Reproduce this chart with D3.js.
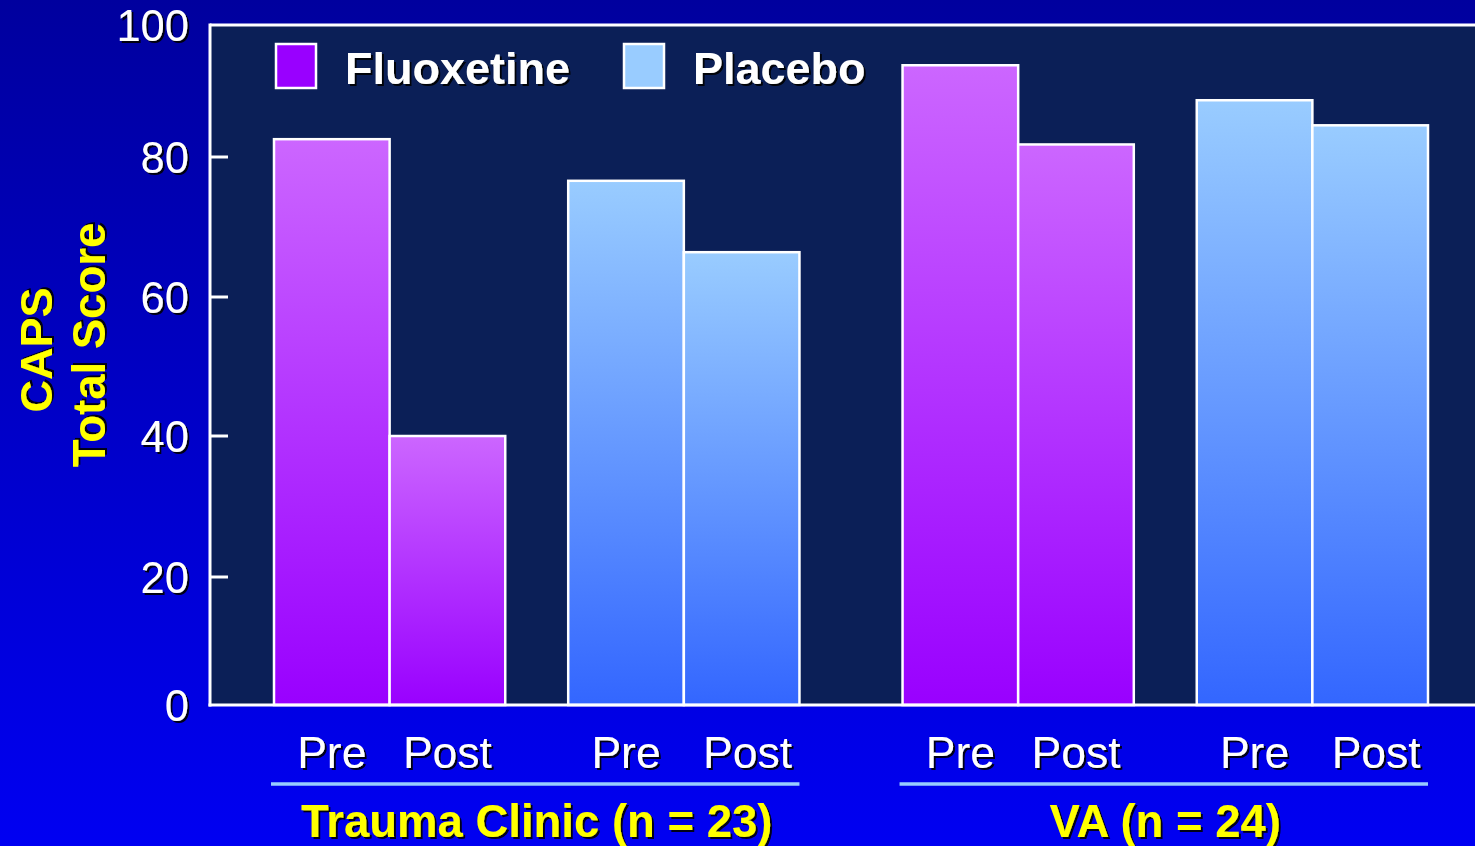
<!DOCTYPE html>
<html>
<head>
<meta charset="utf-8">
<script src="https://cdn.jsdelivr.net/npm/d3@7"></script>
<style>
html,body{margin:0;padding:0;background:#0000c8;}
svg{display:block;}
text{font-family:"Liberation Sans",Arial,sans-serif;}
</style>
</head>
<body>
<svg id="chart" width="1475" height="846"></svg>
<script>
// ---- data ----
const sites = ["Trauma Clinic (n = 23)", "VA (n = 24)"];
const treatments = ["Fluoxetine", "Placebo"];
const times = ["Pre", "Post"];
const fluoxetineValues = [[82.7, 40.0], [93.9, 81.9]];   // per site: [Pre, Post]
const placeboValues = [[76.6, 66.4], [88.6, 84.8]];      // per site: [Pre, Post]
const yTicks = [0, 20, 40, 60, 80, 100];
const yTitle = ["CAPS", "Total Score"];

const W = 1475, H = 846;
const svg = d3.select("#chart");
const defs = svg.append("defs");

// background gradient
const bg = defs.append("linearGradient").attr("id","bg").attr("x1",0).attr("y1",0).attr("x2",0).attr("y2",1);
bg.append("stop").attr("offset","0%").attr("stop-color","#00009e");
bg.append("stop").attr("offset","100%").attr("stop-color","#0000f2");
svg.append("rect").attr("width",W).attr("height",H).attr("fill","url(#bg)");

// bar gradients
const grads = {
  Fluoxetine: ["#cc66ff", "#9900ff"],
  Placebo: ["#99ccff", "#3366ff"]
};
const solid = {Fluoxetine: "#9900ff", Placebo: "#99ccff"};
treatments.forEach(t => {
  const g = defs.append("linearGradient").attr("id","g"+t).attr("x1",0).attr("y1",0).attr("x2",0).attr("y2",1);
  g.append("stop").attr("offset","0%").attr("stop-color",grads[t][0]);
  g.append("stop").attr("offset","100%").attr("stop-color",grads[t][1]);
});

// text shadow
const f = defs.append("filter").attr("id","shadow").attr("x","-10%").attr("y","-10%").attr("width","130%").attr("height","130%");
f.append("feDropShadow").attr("dx",2).attr("dy",2).attr("stdDeviation",0.6).attr("flood-color","#000").attr("flood-opacity",0.9);

// scales
const plotL = 210, plotT = 25, plotB = 705;
const y = d3.scaleLinear().domain(yTicks).range([705, 577, 436, 297, 157, 25]);
const xSite = d3.scaleBand().domain(sites).range([274, 1428]).paddingInner(0.164);
const xTreat = d3.scaleBand().domain(treatments).range([0, xSite.bandwidth()]).paddingInner(0.214);
const xTime = d3.scaleBand().domain(times).range([0, xTreat.bandwidth()]);
const labelShift = {Fluoxetine: 0, Placebo: 6};

// plot area
svg.append("rect").attr("x",plotL).attr("y",plotT).attr("width",W-plotL+5).attr("height",plotB-plotT)
  .attr("fill","#0b1f57");

// bars
const bars = [];
sites.forEach((s, si) => {
  treatments.forEach(t => {
    const vals = t === "Fluoxetine" ? fluoxetineValues[si] : placeboValues[si];
    times.forEach((tm, ti) => bars.push({site: s, treat: t, time: tm, value: vals[ti]}));
  });
});
svg.append("g").selectAll("rect").data(bars).join("rect")
  .attr("x", d => xSite(d.site) + xTreat(d.treat) + xTime(d.time))
  .attr("y", d => y(d.value))
  .attr("width", xTime.bandwidth())
  .attr("height", d => y(0) - y(d.value))
  .attr("fill", d => `url(#g${d.treat})`)
  .attr("stroke","#ffffff").attr("stroke-width",2.5);

// frame lines (top, left, bottom)
svg.append("line").attr("x1",plotL).attr("x2",W).attr("y1",plotT).attr("y2",plotT).attr("stroke","#fff").attr("stroke-width",3);
svg.append("line").attr("x1",plotL).attr("x2",plotL).attr("y1",plotT-1.5).attr("y2",plotB+1.5).attr("stroke","#fff").attr("stroke-width",3);
svg.append("line").attr("x1",plotL-1.5).attr("x2",W).attr("y1",plotB).attr("y2",plotB).attr("stroke","#fff").attr("stroke-width",3);

// y ticks
const yAxis = svg.append("g");
yAxis.selectAll("line.tick").data(yTicks.filter(v => v > 0 && v < 100)).join("line")
  .attr("x1",plotL).attr("x2",plotL+18).attr("y1",d=>y(d)).attr("y2",d=>y(d))
  .attr("stroke","#fff").attr("stroke-width",3);
yAxis.selectAll("text").data(yTicks).join("text")
  .attr("x",189).attr("y",d=>y(d)).attr("dy","0.36em")
  .attr("text-anchor","end").attr("fill","#fff").attr("font-size",43.5)
  .attr("filter","url(#shadow)").text(d=>d);

// y title
svg.append("text").attr("transform","translate(52,350) rotate(-90)")
  .attr("text-anchor","middle").attr("fill","#ffff00").attr("font-size",45).attr("font-weight","bold")
  .attr("filter","url(#shadow)").text(yTitle[0]);
svg.append("text").attr("transform","translate(105,345) rotate(-90)")
  .attr("text-anchor","middle").attr("fill","#ffff00").attr("font-size",45.5).attr("font-weight","bold")
  .attr("filter","url(#shadow)").text(yTitle[1]);

// x labels
const labels = [];
sites.forEach(s => treatments.forEach(t => times.forEach(tm => labels.push({s,t,tm}))));
svg.append("g").selectAll("text").data(labels).join("text")
  .attr("x", d => xSite(d.s) + xTreat(d.t) + xTime(d.tm) + xTime.bandwidth()/2 + (d.tm === "Post" ? labelShift[d.t] : 0))
  .attr("y", 768).attr("text-anchor","middle").attr("fill","#fff").attr("font-size",44.5)
  .attr("filter","url(#shadow)").text(d => d.tm);

// group underline + site labels
sites.forEach(s => {
  svg.append("line").attr("x1",xSite(s)-3).attr("x2",xSite(s)+xSite.bandwidth())
    .attr("y1",784).attr("y2",784).attr("stroke","#99ccff").attr("stroke-width",3.5);
  svg.append("text").attr("x",xSite(s)+xSite.bandwidth()/2).attr("y",837)
    .attr("text-anchor","middle").attr("fill","#ffff00").attr("font-size",45.5).attr("font-weight","bold")
    .attr("filter","url(#shadow)").text(s);
});

// legend
const legendX = [276, 624];
treatments.forEach((t, i) => {
  svg.append("rect").attr("x",legendX[i]).attr("y",44).attr("width",40).attr("height",44)
    .attr("fill",solid[t]).attr("stroke","#fff").attr("stroke-width",2.5);
  svg.append("text").attr("x",legendX[i]+69).attr("y",84).attr("fill","#fff")
    .attr("font-size",45).attr("font-weight","bold").attr("filter","url(#shadow)").text(t);
});
</script>
</body>
</html>
